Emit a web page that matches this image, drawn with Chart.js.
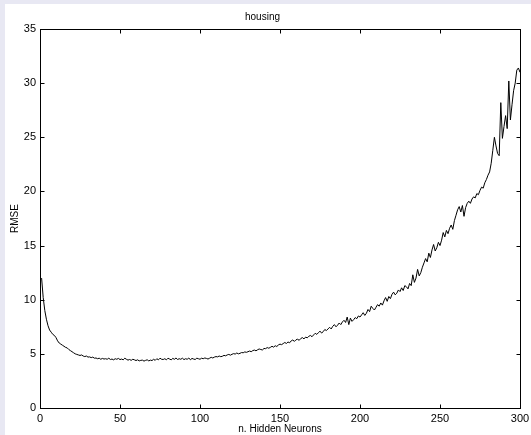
<!DOCTYPE html>
<html>
<head>
<meta charset="utf-8">
<script src="https://cdn.jsdelivr.net/npm/chart.js@4"></script>
<style>
  html, body { margin: 0; padding: 0; background: #e8e8f3; }
  #wrap { position: absolute; left: 5px; top: 4px; width: 526px; height: 431px; background: #ffffff; }
</style>
</head>
<body>
<div id="wrap"><canvas id="grafico" width="526" height="431"></canvas></div>
<script>
// valores (RMSE por numero de neuronios ocultos)
const neuronios = [];
for (let i = 1; i <= 300; i++) neuronios.push(i);

const rmse = [
  12.0, 10.2, 9.0, 8.2, 7.6, 7.2, 7.0, 6.8, 6.7, 6.5,
  6.2, 6.0, 5.9, 5.8, 5.7, 5.6, 5.55, 5.4, 5.3, 5.2,
  5.1, 5.0, 4.95, 4.9, 4.85, 4.9, 4.8, 4.75, 4.8, 4.7,
  4.72, 4.65, 4.7, 4.6, 4.62, 4.55, 4.6, 4.5, 4.58, 4.52,
  4.55, 4.5, 4.6, 4.48, 4.52, 4.45, 4.55, 4.5, 4.58, 4.47,
  4.52, 4.45, 4.6, 4.5, 4.42, 4.48, 4.4, 4.5, 4.45, 4.38,
  4.45, 4.35, 4.4, 4.42, 4.33, 4.4, 4.45, 4.35, 4.42, 4.38,
  4.5, 4.4, 4.55, 4.45, 4.6, 4.5, 4.48, 4.55, 4.45, 4.6,
  4.52, 4.45, 4.58, 4.5, 4.62, 4.48, 4.55, 4.5, 4.6, 4.47,
  4.55, 4.5, 4.62, 4.45, 4.58, 4.52, 4.48, 4.6, 4.55, 4.5,
  4.6, 4.55, 4.62, 4.58, 4.52, 4.6, 4.68, 4.62, 4.7, 4.75,
  4.72, 4.8, 4.74, 4.78, 4.86, 4.82, 4.9, 4.95, 4.88, 4.96,
  5.02, 4.98, 5.08, 5.0, 5.05, 5.12, 5.1, 5.18, 5.14, 5.2,
  5.26, 5.2, 5.3, 5.35, 5.28, 5.38, 5.45, 5.4, 5.36, 5.5,
  5.48, 5.58, 5.52, 5.6, 5.7, 5.62, 5.75, 5.68, 5.82, 5.9,
  5.85, 5.95, 6.05, 5.96, 6.1, 6.02, 6.2, 6.28, 6.15, 6.3,
  6.35, 6.25, 6.42, 6.5, 6.38, 6.55, 6.48, 6.62, 6.7, 6.58,
  6.75, 6.9, 6.8, 6.95, 7.1, 6.92, 7.05, 7.25, 7.15, 7.3,
  7.45, 7.3, 7.55, 7.7, 7.5, 7.65, 7.85, 7.7, 7.95, 8.1,
  7.9, 8.4, 7.7, 8.3, 8.0, 8.15, 8.35, 8.25, 8.5, 8.4,
  8.6, 8.8, 8.55, 8.75, 9.1, 8.9, 9.4, 9.2, 9.05, 9.3,
  9.55, 9.4, 9.7, 9.5, 9.9, 10.2, 9.85, 10.3, 10.1, 10.5,
  10.7, 10.45, 10.6, 10.9, 10.75, 11.1, 10.85, 11.3, 11.2, 11.0,
  11.5, 11.3, 12.3, 11.6, 12.0, 12.8, 12.2, 12.5, 13.0, 13.4,
  13.8, 13.5, 14.3, 13.9, 14.6, 15.1, 14.5, 14.8, 15.3, 15.0,
  15.5, 16.2, 15.8, 16.4, 16.1, 16.6, 16.9, 16.5, 17.3, 17.8,
  18.3, 18.6, 18.1, 18.7, 17.7, 18.5, 18.9, 19.1, 18.9, 19.3,
  19.5, 19.4, 19.8, 19.7, 20.1, 20.4, 20.3, 20.8, 21.1, 21.5,
  21.8, 22.6, 23.8, 25.0, 24.2, 23.5, 23.3, 28.2, 24.9, 26.0,
  27.0, 25.8, 30.2, 26.6, 28.0, 29.3, 30.0, 31.2, 31.4, 31.0
];

const ticksX = [0, 50, 100, 150, 200, 250, 300];
const ticksY = [0, 5, 10, 15, 20, 25, 30, 35];

// caixa em volta da area do grafico com marcas para dentro (estilo matlab)
const caixaEixos = {
  id: 'caixaEixos',
  afterDraw(chart) {
    const ctx = chart.ctx;
    const a = chart.chartArea;
    const sx = chart.scales.x;
    const sy = chart.scales.y;
    const L = Math.round(a.left) + 0.5, R = Math.round(a.right) + 0.5;
    const T = Math.round(a.top) + 0.5, B = Math.round(a.bottom) + 0.5;
    ctx.save();
    ctx.strokeStyle = '#000';
    ctx.lineWidth = 1;
    ctx.strokeRect(L, T, R - L, B - T);
    ctx.beginPath();
    ticksX.forEach(v => {
      const px = Math.round(sx.getPixelForValue(v)) + 0.5;
      ctx.moveTo(px, B); ctx.lineTo(px, B - 4);
      ctx.moveTo(px, T); ctx.lineTo(px, T + 4);
    });
    ticksY.forEach(v => {
      const py = Math.round(sy.getPixelForValue(v)) + 0.5;
      ctx.moveTo(L, py); ctx.lineTo(L + 4, py);
      ctx.moveTo(R, py); ctx.lineTo(R - 4, py);
    });
    ctx.stroke();
    ctx.restore();
  }
};

const fonte = "'Liberation Sans', Arial, Helvetica, sans-serif";

new Chart(document.getElementById('grafico').getContext('2d'), {
  type: 'line',
  data: {
    labels: neuronios,
    datasets: [{
      data: rmse,
      borderColor: '#000',
      borderWidth: 1,
      pointRadius: 0,
      tension: 0,
      fill: false
    }]
  },
  options: {
    responsive: false,
    animation: false,
    layout: { padding: { top: 0, right: 11, bottom: 0, left: 0 } },
    plugins: {
      legend: { display: false },
      tooltip: { enabled: false },
      title: {
        display: true,
        text: 'housing',
        color: '#000',
        font: { family: fonte, size: 10, weight: 'normal' },
        padding: { top: 7, bottom: 6 }
      }
    },
    scales: {
      x: {
        type: 'linear',
        min: 0,
        max: 300,
        afterBuildTicks: s => { s.ticks = ticksX.map(v => ({ value: v })); },
        afterFit: s => { s.height = 27; s.paddingLeft = 0; s.paddingRight = 0; },
        grid: { display: false, drawTicks: false },
        border: { display: false },
        ticks: { color: '#000', padding: 4, maxRotation: 0, font: { family: fonte, size: 11 } },
        title: {
          display: true,
          text: 'n. Hidden Neurons',
          color: '#000',
          padding: 0,
          font: { family: fonte, size: 10 }
        }
      },
      y: {
        type: 'linear',
        min: 0,
        max: 35,
        afterBuildTicks: s => { s.ticks = ticksY.map(v => ({ value: v })); },
        afterFit: s => { s.width = 35; s.paddingTop = 0; s.paddingBottom = 0; },
        grid: { display: false, drawTicks: false },
        border: { display: false },
        ticks: { color: '#000', padding: 4, font: { family: fonte, size: 11 } },
        title: {
          display: true,
          text: 'RMSE',
          color: '#000',
          padding: { top: 4, bottom: 0 },
          font: { family: fonte, size: 10 }
        }
      }
    }
  },
  plugins: [caixaEixos]
});
</script>
</body>
</html>
